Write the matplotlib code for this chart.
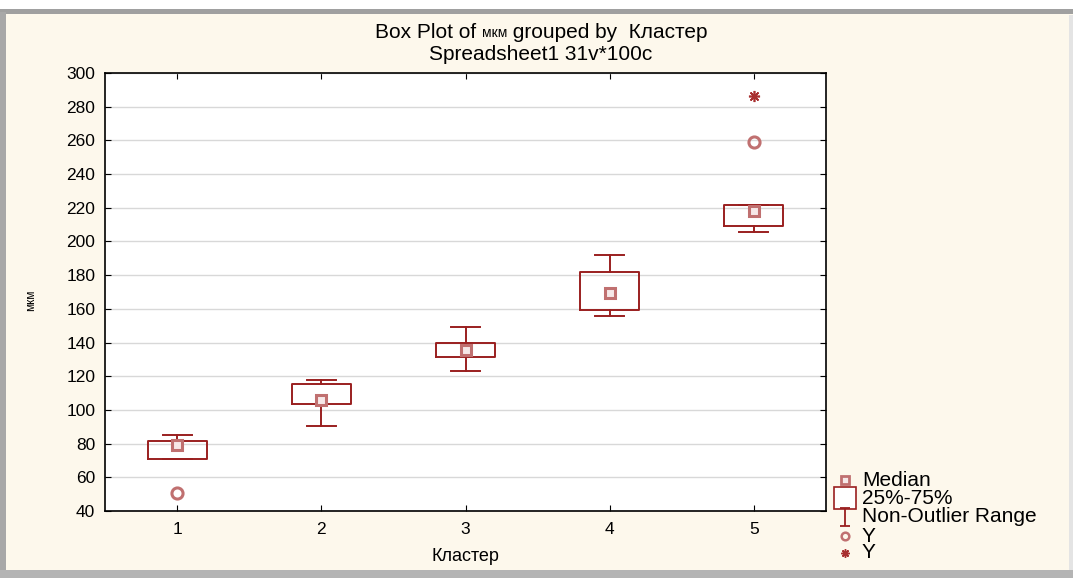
import matplotlib
matplotlib.use('Agg')
import matplotlib.pyplot as plt
from matplotlib.lines import Line2D
from matplotlib.patches import Rectangle
from matplotlib.path import Path

# data
clusters = [1, 2, 3, 4, 5]
q1 = [71, 103.5, 131.5, 159.5, 209]
q3 = [81.5, 115.5, 139.5, 182, 221.5]
medians = [79, 106, 135.5, 169.5, 218]
whislo = [71, 90.5, 123, 156, 205.5]
whishi = [85, 118, 149, 192, 221.5]
outliers = [[50.5], [], [], [], [259]]
extremes = [[], [], [], [], [286.5]]

yticks = list(range(40, 301, 20))
legend_labels = ['Median', '25%-75%', 'Non-Outlier Range', 'Y', 'Y']

box_red = '#9a1f1f'
pink = '#c07070'
cream = '#fdf8ec'

plt.rcParams['font.family'] = ['Liberation Sans', 'DejaVu Sans']

W, H = 1073, 578
fig = plt.figure(figsize=(W / 100, H / 100), dpi=100, facecolor=cream)
ax = fig.add_axes([0.0979, 0.1159, 0.6719, 0.7578])
ax.set_facecolor('white')

stats = []
for i in range(len(clusters)):
    stats.append(dict(med=medians[i], q1=q1[i], q3=q3[i], whislo=whislo[i],
                      whishi=whishi[i], fliers=[], label=str(clusters[i])))

ax.bxp(stats, positions=clusters, widths=0.41, showfliers=False,
       boxprops=dict(color=box_red, lw=1.4),
       whiskerprops=dict(color=box_red, lw=1.4),
       capprops=dict(color=box_red, lw=1.4),
       medianprops=dict(lw=0), capwidths=0.2)

ax.plot(clusters, medians, ls='none', marker='s', ms=7.5, mfc='#f6e8e8',
        mec=pink, mew=2.2, zorder=5)
for c, o in zip(clusters, outliers):
    if o:
        ax.plot([c] * len(o), o, ls='none', marker='o', ms=8, mfc='none',
                mec=pink, mew=2.2, zorder=5)
for c, e in zip(clusters, extremes):
    if e:
        ax.plot([c] * len(e), e, ls='none', marker=(8, 2, 0), ms=8,
                mec='#a83030', mew=1.2, zorder=5)

ax.set_xlim(0.5, 5.5)
ax.set_ylim(40, 300)
ax.set_yticks(yticks)
ax.set_xticks(clusters)
ax.set_xticklabels([str(c) for c in clusters])
ax.yaxis.grid(True, color='#d8d8d8', lw=1)
ax.set_axisbelow(True)
ax.tick_params(direction='in', top=True, right=True, length=4,
               labelsize=12.5, color='black')
ax.tick_params(axis='x', pad=8)
ax.tick_params(axis='y', pad=7)
for s in ax.spines.values():
    s.set_linewidth(1.2)

# title, with the small "мкм" in the middle of the first line
fig.canvas.draw()
r = fig.canvas.get_renderer()
y1 = 1 - 33 / H
parts = [('Box Plot of ', 15), ('мкм', 10), (' grouped by  Кластер', 15)]
texts = [fig.text(0, y1, s, ha='left', va='center', fontsize=f) for s, f in parts]
widths = [t.get_window_extent(r).width / W for t in texts]
x = 541 / W - sum(widths) / 2
for t, w in zip(texts, widths):
    t.set_x(x)
    x += w
fig.text(541 / W, 1 - 54 / H, 'Spreadsheet1 31v*100c', ha='center', va='center', fontsize=15)

ax.set_xlabel('Кластер', fontsize=13, labelpad=8)
fig.text(31 / W, 1 - 300 / H, 'мкм', rotation=90, ha='center', va='center', fontsize=8.5)

# legend, drawn by hand to get the tight rows
ibar = Path([(-0.6, 1), (0.6, 1), (0, 1), (0, -1), (-0.6, -1), (0.6, -1)],
            [Path.MOVETO, Path.LINETO, Path.MOVETO, Path.LINETO, Path.MOVETO, Path.LINETO])
legend_style = [
    dict(marker='s', ms=5.5, mfc='#f6e8e8', mec=pink, mew=2),
    dict(marker='s', ms=16, mfc='white', mec=box_red, mew=1.2),
    dict(marker=ibar, ms=13, mfc='none', mec=box_red, mew=1.3),
    dict(marker='o', ms=5.5, mfc='none', mec=pink, mew=1.8),
    dict(marker=(8, 2, 0), ms=6, mec='#a83030', mew=1.1),
]
row_y = [480, 498, 517, 536, 553]
lax = fig.add_axes([0, 0, 1, 1], facecolor='none')
lax.set_xlim(0, W)
lax.set_ylim(H, 0)
lax.axis('off')
for lab, st, yy in zip(legend_labels, legend_style, row_y):
    lax.add_line(Line2D([845], [yy], ls='none', **st))
    lax.text(862, yy, lab, ha='left', va='center', fontsize=15)

# window frame
fig.patches.append(Rectangle((0, 0.976), 1, 0.024, transform=fig.transFigure,
                             facecolor='white', edgecolor='none'))
fig.patches.append(Rectangle((0, 0.976), 1, 0.009, transform=fig.transFigure,
                             facecolor='#a0a0a0', edgecolor='none'))
fig.patches.append(Rectangle((0, 0), 0.006, 0.98, transform=fig.transFigure,
                             facecolor='#a8a8a8', edgecolor='none'))
fig.patches.append(Rectangle((0, 0), 1, 0.014, transform=fig.transFigure,
                             facecolor='#b4b4b4', edgecolor='none'))
fig.patches.append(Rectangle((0.996, 0.014), 0.004, 0.96, transform=fig.transFigure,
                             facecolor='#e4e4e4', edgecolor='none'))

fig.savefig('out.png', dpi=100, facecolor=cream)
